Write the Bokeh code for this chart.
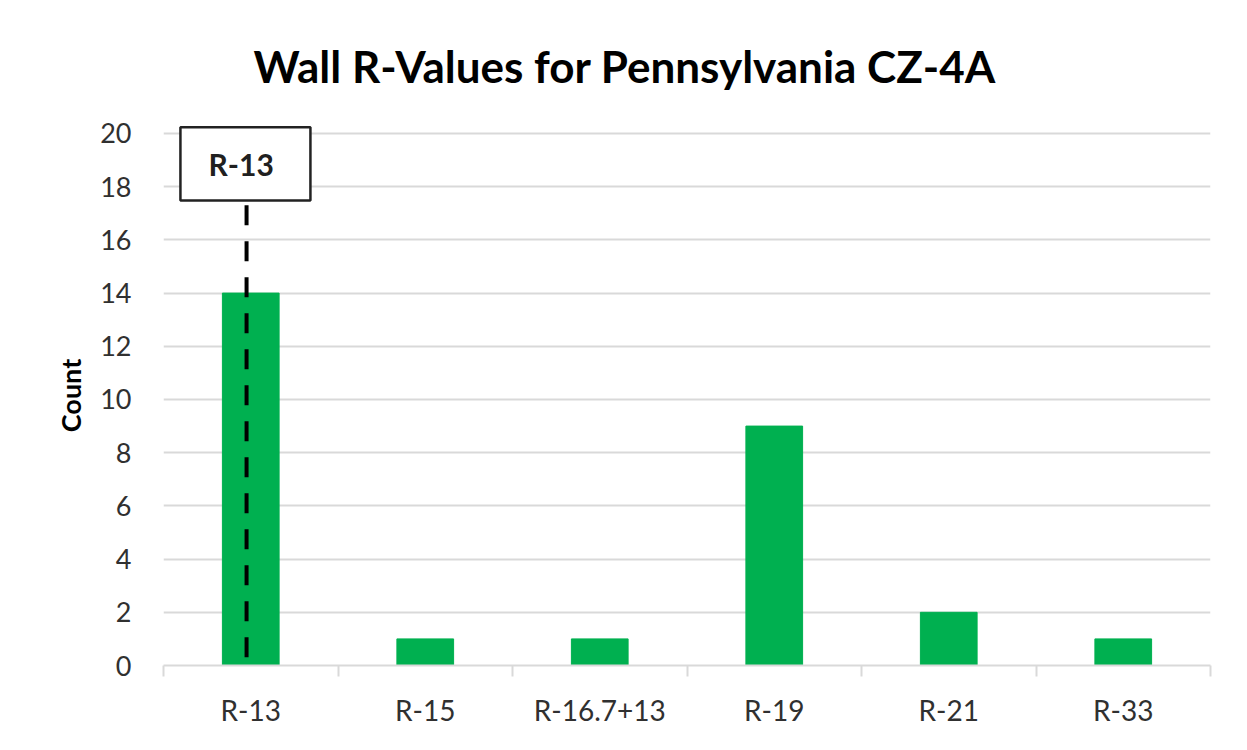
from bokeh.plotting import figure
from bokeh.models import FixedTicker, Range1d
from bokeh.core.properties import value
from bokeh.embed import file_html
from bokeh.resources import INLINE

title_text = "Wall R-Values for Pennsylvania CZ-4A"
categories = ["R-13", "R-15", "R-16.7+13", "R-19", "R-21", "R-33"]
counts = [14, 1, 1, 9, 2, 1]
y_ticks = [0, 2, 4, 6, 8, 10, 12, 14, 16, 18, 20]
y_label = "Count"
marker_category = "R-13"
marker_label = "R-13"

FONT = "Lato"
GRID = "#d9d9d9"
TXT = "#303030"

xs = [i + 0.5 for i in range(len(categories))]

p = figure(width=1232, height=734, output_backend="svg", toolbar_location=None,
           x_range=Range1d(0, len(categories)), y_range=Range1d(0, 20.3),
           min_border_left=163, min_border_right=22, min_border_top=125, min_border_bottom=69)

p.vbar(x=xs, top=counts, width=0.325, fill_color="#00b050", line_color="#00b050")

mi = categories.index(marker_category)
p.segment(x0=[mi + 0.476], y0=[17.3], x1=[mi + 0.476], y1=[0.1],
          line_color="black", line_width=4, line_dash="20 16")
p.quad(left=[mi + 0.097], right=[mi + 0.842], top=[20.23], bottom=[17.48],
       fill_color="white", line_color="#222222", line_width=2.5)
p.text(x=[mi + 0.445], y=[18.85], text=[marker_label], text_align="center",
       text_baseline="middle", text_font=value(FONT), text_font_style="bold",
       text_font_size="30px", text_color="#202020")

# x axis
p.xaxis.ticker = FixedTicker(ticks=xs, minor_ticks=list(range(len(categories) + 1)))
p.xaxis.major_label_overrides = {x: c for x, c in zip(xs, categories)}
p.xaxis.axis_line_color = GRID
p.xaxis.axis_line_width = 2
p.xaxis.major_tick_in = 0
p.xaxis.major_tick_out = 0
p.xaxis.minor_tick_in = 0
p.xaxis.minor_tick_out = 11
p.xaxis.minor_tick_line_color = GRID
p.xaxis.minor_tick_line_width = 2
p.xaxis.major_label_standoff = 16
p.xaxis.major_label_text_font = FONT
p.xaxis.major_label_text_font_size = "28px"
p.xaxis.major_label_text_color = TXT

# y axis
p.yaxis.ticker = FixedTicker(ticks=y_ticks)
p.yaxis.axis_line_color = None
p.yaxis.major_tick_line_color = None
p.yaxis.minor_tick_line_color = None
p.yaxis.major_label_standoff = 26
p.yaxis.major_label_text_font = FONT
p.yaxis.major_label_text_font_size = "27px"
p.yaxis.major_label_text_color = TXT
p.yaxis.axis_label = y_label
p.yaxis.axis_label_text_font = FONT
p.yaxis.axis_label_text_font_style = "bold"
p.yaxis.axis_label_text_font_size = "27px"
p.yaxis.axis_label_text_color = "black"
p.yaxis.axis_label_standoff = 10

p.xgrid.grid_line_color = None
p.ygrid.grid_line_color = GRID
p.ygrid.grid_line_width = 2

p.outline_line_color = None

p.title.text = title_text
p.title.align = "left"
p.title.offset = 90
p.title.vertical_align = "top"
p.title.text_font = FONT
p.title.text_font_style = "bold"
p.title.text_font_size = "44px"
p.title.text_color = "black"
p.title.standoff = 64

open("out.html", "w").write(file_html(p, INLINE))
